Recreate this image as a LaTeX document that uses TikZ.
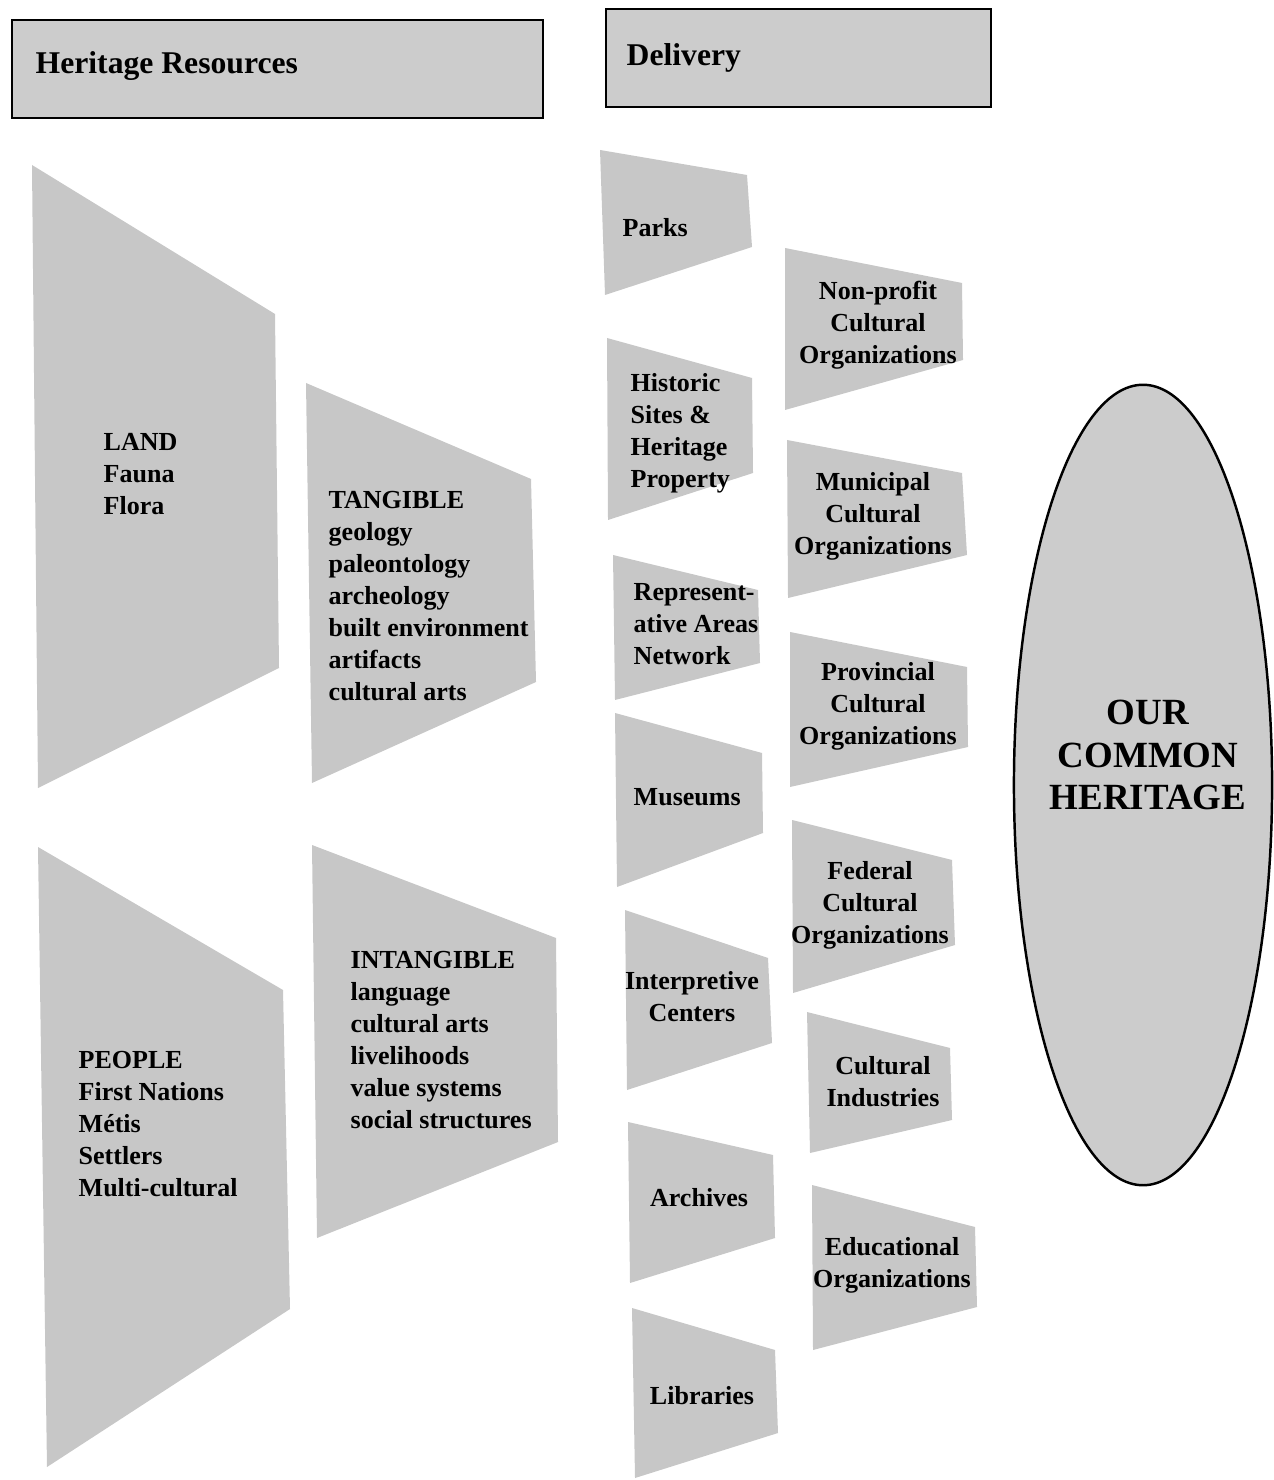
\documentclass[tikz,border=0pt]{standalone}
\usepackage{fontspec}
\setmainfont{Liberation Serif}
\usetikzlibrary{shapes.geometric}

\begin{document}
\begin{tikzpicture}[x=0.01cm,y=-0.01cm,
    panel/.style={fill=black!22},
    titlebox/.style={draw=black,line width=0.8pt,fill=black!20},
    titletxt/.style={font=\fontsize{9}{11}\selectfont\bfseries,anchor=west,inner sep=0pt},
    lefttxt/.style={font=\fontsize{7.4}{9.1}\selectfont\bfseries,align=left,anchor=west,inner sep=0pt},
    midtxt/.style={font=\fontsize{7.4}{9.1}\selectfont\bfseries,align=center,inner sep=0pt},
    bigtxt/.style={font=\fontsize{10.5}{12.2}\selectfont\bfseries,align=center,inner sep=0pt}]
    \useasboundingbox (0,0) rectangle (1274,1480);
    % headings
    \draw[titlebox] (12,20) rectangle (543,118);
    \node[titletxt] (hrtitle) at (35,66) {Heritage Resources};
    \draw[titlebox] (606,9) rectangle (991,107);
    \node[titletxt] (deltitle) at (626,58) {Delivery};
    % heritage resources
    \fill[panel] (32,165) -- (275,314) -- (279,668) -- (38,788) -- cycle;
    \fill[panel] (306,383) -- (531,479) -- (536,682) -- (312,783) -- cycle;
    \fill[panel] (38,847) -- (283,990) -- (290,1309) -- (47,1467) -- cycle;
    \fill[panel] (312,845) -- (556,938) -- (558,1142) -- (317,1238) -- cycle;
    \node[lefttxt] (land) at (103,474) {LAND\\Fauna\\Flora};
    \node[lefttxt] (tangible) at (328,596) {TANGIBLE\\geology\\paleontology\\archeology\\built environment\\artifacts\\cultural arts};
    \node[lefttxt] (people) at (78,1124) {PEOPLE\\First Nations\\Métis\\Settlers\\Multi-cultural};
    \node[lefttxt] (intangible) at (350,1040) {INTANGIBLE\\language\\cultural arts\\livelihoods\\value systems\\social structures};
    % delivery, first column
    \fill[panel] (600,150) -- (747,175) -- (752,247) -- (605,295) -- cycle;
    \fill[panel] (607,338) -- (752,378) -- (753,473) -- (608,520) -- cycle;
    \fill[panel] (613,555) -- (758,590) -- (760,663) -- (615,700) -- cycle;
    \fill[panel] (615,713) -- (762,753) -- (763,833) -- (617,887) -- cycle;
    \fill[panel] (625,910) -- (768,958) -- (772,1043) -- (627,1090) -- cycle;
    \fill[panel] (628,1122) -- (773,1155) -- (775,1238) -- (630,1283) -- cycle;
    \fill[panel] (632,1308) -- (775,1350) -- (778,1433) -- (635,1478) -- cycle;
    \node[lefttxt] (parks) at (622,228) {Parks};
    \node[lefttxt] (historic) at (630,433) {Historic\\Sites \&\\Heritage\\Property};
    \node[lefttxt] (repnet) at (633,624) {Represent-\\ative Areas\\Network};
    \node[lefttxt] (museums) at (633,797) {Museums};
    \node[midtxt] (interp) at (692,997) {Interpretive\\Centers};
    \node[midtxt] (archives) at (699,1198) {Archives};
    \node[midtxt] (libraries) at (702,1396) {Libraries};
    % delivery, second column
    \fill[panel] (785,248) -- (962,283) -- (963,360) -- (785,410) -- cycle;
    \fill[panel] (787,440) -- (962,473) -- (967,555) -- (788,598) -- cycle;
    \fill[panel] (790,632) -- (967,667) -- (968,747) -- (790,787) -- cycle;
    \fill[panel] (792,820) -- (952,860) -- (955,945) -- (793,993) -- cycle;
    \fill[panel] (807,1012) -- (950,1048) -- (952,1120) -- (810,1153) -- cycle;
    \fill[panel] (812,1185) -- (975,1227) -- (977,1307) -- (813,1350) -- cycle;
    \node[midtxt] (nonprofit) at (878,325) {Non-profit\\Cultural\\Organizations};
    \node[midtxt] (municipal) at (873,516) {Municipal\\Cultural\\Organizations};
    \node[midtxt] (provincial) at (878,706) {Provincial\\Cultural\\Organizations};
    \node[midtxt] (federal) at (870,905) {Federal\\Cultural\\Organizations};
    \node[midtxt] (industries) at (883,1082) {Cultural\\Industries};
    \node[midtxt] (educational) at (892,1265) {Educational\\Organizations};
    % common heritage
    \node[ellipse,draw=black,line width=0.7pt,fill=black!20,minimum width=2.58cm,minimum height=8cm,inner sep=0pt] (ourring) at (1143,785) {};
    \node[bigtxt] (ourtxt) at (1148,755) {OUR\\COMMON\\HERITAGE};
\end{tikzpicture}
\end{document}
